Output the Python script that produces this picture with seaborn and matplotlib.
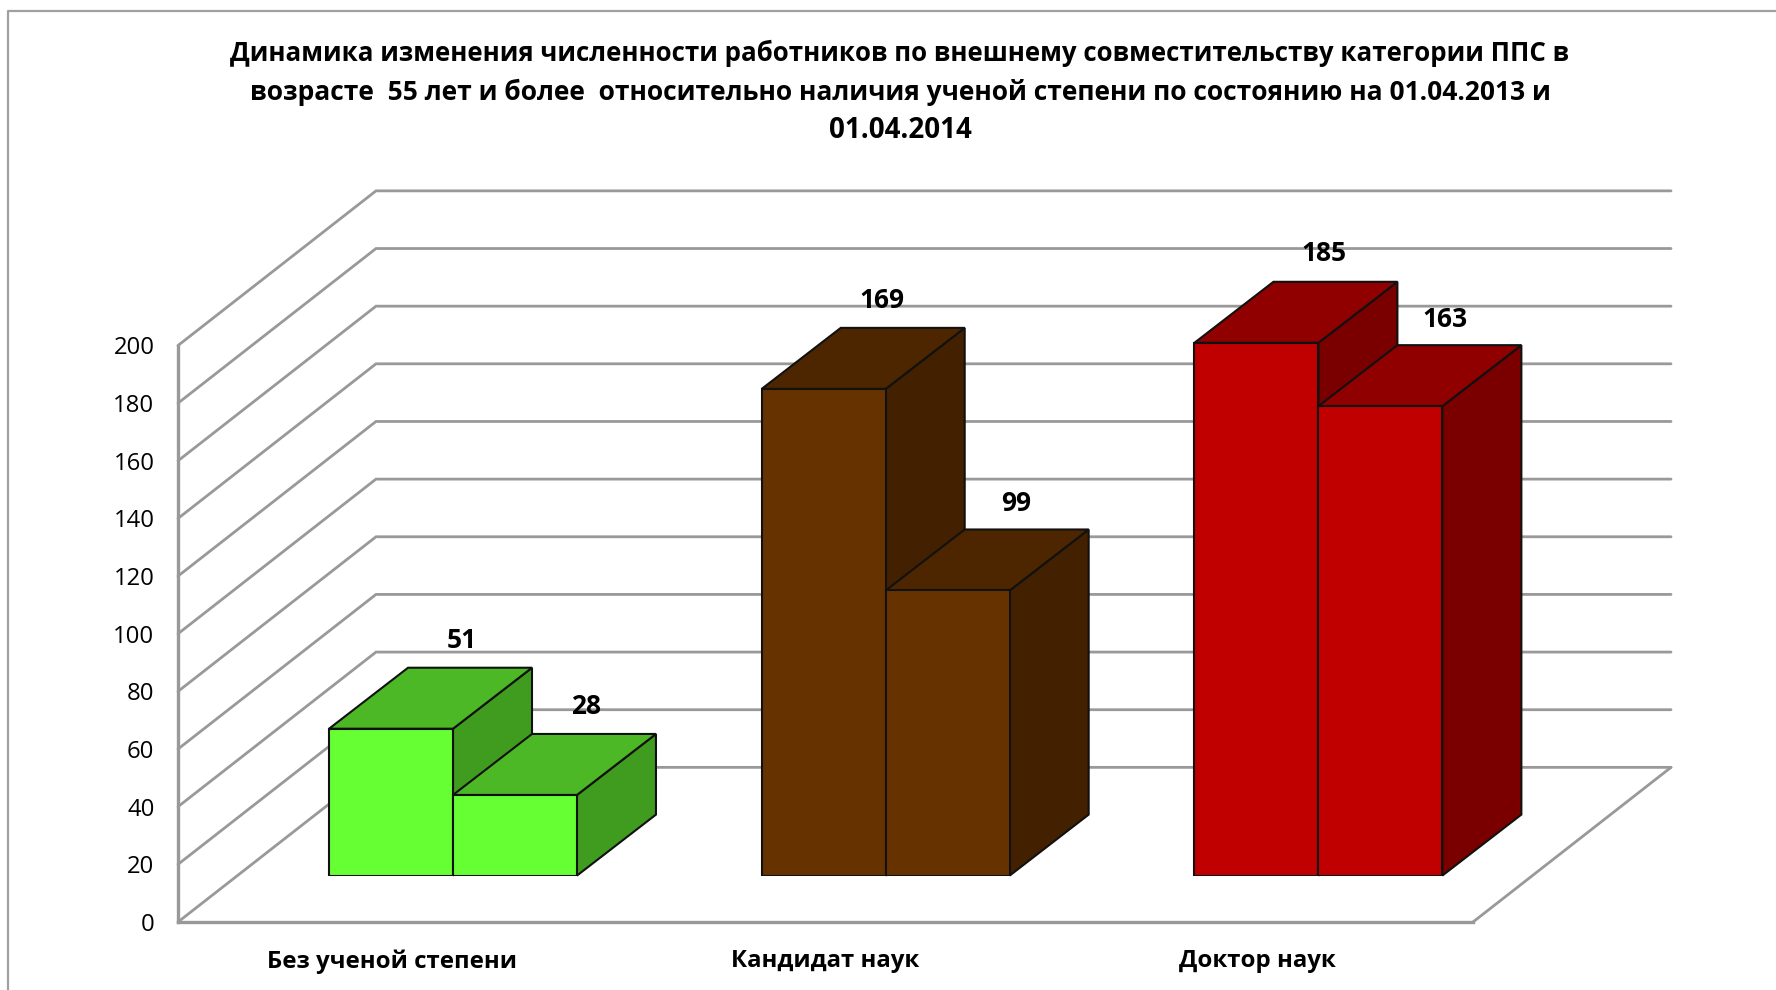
import matplotlib
matplotlib.use("Agg")
import matplotlib.pyplot as plt
from matplotlib.lines import Line2D
from matplotlib.patches import Polygon
from matplotlib.transforms import ScaledTranslation
import pandas as pd
import seaborn as sns

title = ("Динамика изменения численности работников по внешнему совместительству категории ППС в\n"
         "возрасте  55 лет и более  относительно наличия ученой степени по состоянию на 01.04.2013 и\n"
         "01.04.2014")
categories = ["Без ученой степени", "Кандидат наук", "Доктор наук"]
values_2013 = [51, 169, 185]
values_2014 = [28, 99, 163]
y_ticks = [0, 20, 40, 60, 80, 100, 120, 140, 160, 180, 200]

front_colors = ["#66FF33", "#663300", "#C00000"]
top_colors = ["#4CB826", "#4D2600", "#900000"]
side_colors = ["#3F9C1F", "#432100", "#7A0000"]
grid_color = "#999999"

W, H = 1776, 990
PX_PER_UNIT = 2.88


def main():
    sns.set_theme(style="white")
    plt.rcParams["font.family"] = ["Open Sans", "DejaVu Sans"]
    fig = plt.figure(figsize=(W / 100, H / 100), dpi=100, facecolor="white")

    # chart frame, cut by the image on the right and the bottom
    fig.add_artist(Line2D([8 / W, 8 / W, 1], [0, 1 - 11 / H, 1 - 11 / H], color="#a0a0a0", lw=1.6))

    # wall axes: real value scale, floor front edge at y=0
    wall_l, wall_r, wall_b, wall_t = 178, 1473, 922, 345.5
    wall = fig.add_axes([wall_l / W, 1 - wall_b / H, (wall_r - wall_l) / W, (wall_b - wall_t) / H])
    wall.set_xlim(0, 1)
    wall.set_ylim(0, 200)
    wall.set_xticks([])
    wall.set_yticks(y_ticks)
    wall.tick_params(axis="y", length=0, pad=17, labelsize=17.2, labelcolor="black")
    for s in ["top", "right"]:
        wall.spines[s].set_visible(False)
    for s in ["left", "bottom"]:
        wall.spines[s].set_color(grid_color)
        wall.spines[s].set_linewidth(2.4)

    depth_x = 198 / (wall_r - wall_l)
    depth_y = 154.5 / PX_PER_UNIT
    for t in y_ticks:
        wall.plot([0, depth_x, 1 + depth_x], [t, t + depth_y, t + depth_y],
                  color=grid_color, lw=2.0, clip_on=False, solid_joinstyle="miter")
    wall.plot([1, 1 + depth_x], [0, depth_y], color=grid_color, lw=2.0, clip_on=False)

    # bar axes: baseline at the front of the bars, same px per unit
    base_px = 875.6
    ax = fig.add_axes([0, 1 - base_px / H, 1, base_px / H])
    ax.patch.set_alpha(0)
    df = pd.DataFrame({
        "category": categories * 2,
        "value": values_2013 + values_2014,
        "date": ["01.04.2013"] * 3 + ["01.04.2014"] * 3,
    })
    sns.barplot(data=df, x="category", y="value", hue="date", width=0.573, gap=0,
                legend=False, ax=ax)
    step_px = 432.7
    ax.set_xlim(-453 / step_px, (W - 453) / step_px)
    ax.set_ylim(0, base_px / PX_PER_UNIT)
    ax.set_xlabel(None)
    ax.set_ylabel(None)
    ax.set_yticks([])
    ax.tick_params(axis="x", length=0, pad=53, labelsize=17.3)
    sns.despine(ax=ax, left=True, bottom=True)
    # category labels sit left of their bar groups
    shift = ScaledTranslation(-61 / 100, 0, fig.dpi_scale_trans)
    for label in ax.get_xticklabels():
        label.set_fontweight("bold")
        label.set_color("black")
        label.set_transform(label.get_transform() + shift)

    bar_dx = 79 / step_px
    bar_dy = 61 / PX_PER_UNIT
    # the value labels drift a little from bar to bar in the original
    label_dx = [71, 71, 58, 68, 68, 65]
    label_up = [88, 88, 88, 87, 89, 87]
    bars = sorted([p for p in ax.patches if p.get_height() > 0], key=lambda p: p.get_x())
    for i, bar in enumerate(bars):
        group = i // 2
        x0, x1, h = bar.get_x(), bar.get_x() + bar.get_width(), bar.get_height()
        z = 3 + i
        bar.set(facecolor=front_colors[group], edgecolor="#111111", linewidth=1.5, zorder=z + 0.2)
        ax.add_patch(Polygon([(x1, 0), (x1 + bar_dx, bar_dy), (x1 + bar_dx, h + bar_dy), (x1, h)],
                             facecolor=side_colors[group], edgecolor="#111111", linewidth=1.5,
                             zorder=z, clip_on=False))
        ax.add_patch(Polygon([(x0, h), (x0 + bar_dx, h + bar_dy), (x1 + bar_dx, h + bar_dy), (x1, h)],
                             facecolor=top_colors[group], edgecolor="#111111", linewidth=1.5,
                             zorder=z + 0.1, clip_on=False))
        ax.annotate(str(int(h)), xy=((x0 + x1) / 2, h), xytext=(label_dx[i] * 0.72, label_up[i] * 0.72),
                    textcoords="offset points", ha="center", va="center",
                    fontsize=19, fontweight="bold", color="black", zorder=20)

    # one size per line: Open Sans digits run narrower than the original font
    for line, y_px, size in zip(title.split("\n"), [53, 92, 130], [18.65, 19.0, 20.0]):
        fig.text(900 / W, 1 - y_px / H, line, ha="center", va="center",
                 fontsize=size, fontweight="bold", color="black")

    fig.savefig("out.png", dpi=100)


if __name__ == "__main__":
    main()
